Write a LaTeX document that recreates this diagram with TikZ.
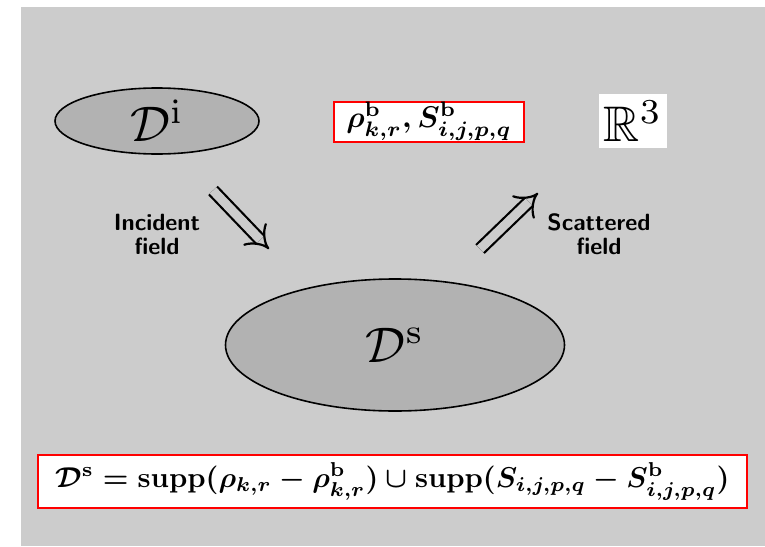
\documentclass[tikz,border=0pt]{standalone}
\usepackage{amssymb}
\usepackage{graphicx}
\usetikzlibrary{shapes.geometric,arrows.meta}
\definecolor{bggray}{gray}{0.8}
\definecolor{ellgray}{gray}{0.7}
\tikzset{
  ell/.style={ellipse, draw=black, line width=1.6pt, fill=ellgray, inner sep=0pt},
  redbox/.style={rectangle, draw=red, line width=2pt, fill=white, inner sep=0pt},
  dbl/.style={draw=black, line width=2.2pt, double=bggray, double distance=9pt, -{Implies}},
  lbl/.style={font=\fontsize{23.5}{24}\selectfont\sffamily\bfseries, align=center, inner sep=0pt}
}
\begin{document}
\begin{tikzpicture}[x=1pt,y=-1pt]
\useasboundingbox (0,0) rectangle (765,546);
\fill[bggray] (21,7) rectangle (765,546);
\node[ell, minimum width=204pt, minimum height=66pt] (di) at (157,121)
  {\scalebox{5}{$\mathcal{D}^{\mathrm{i}}$}};
\node[ell, minimum width=339pt, minimum height=132pt] (ds) at (395,345)
  {\scalebox{5}{$\mathcal{D}^{\mathrm{s}}$}};
\node[redbox, minimum width=190pt, minimum height=40pt] (rb) at (429,121.5)
  {\scalebox{3}{\boldmath$\rho^{\mathrm{b}}_{k,r}, S^{\mathrm{b}}_{i,j,p,q}$}};
\node[rectangle, fill=white, inner sep=0pt, minimum width=68pt, minimum height=54pt] (r3) at (633,121)
  {\scalebox{5}{$\mathbb{R}^3$}};
\node[redbox, minimum width=709pt, minimum height=53pt] (eq) at (392.5,481.5)
  {\scalebox{2.87}{\boldmath$\mathcal{D}^{\mathrm{s}} = \mathrm{supp}(\rho_{k,r} - \rho^{\mathrm{b}}_{k,r}) \cup \mathrm{supp}(S_{i,j,p,q} - S^{\mathrm{b}}_{i,j,p,q})$}};
\node[lbl] (inc) at (157,234) {Incident\\field};
\node[lbl] (sca) at (599,234) {Scattered\\field};
\coordinate (inA) at (213,190.5);
\coordinate (inB) at (269,249);
\coordinate (scA) at (480,249);
\coordinate (scB) at (538,193);
\draw[dbl] (inA) -- (inB);
\draw[dbl] (scA) -- (scB);
\end{tikzpicture}
\end{document}
